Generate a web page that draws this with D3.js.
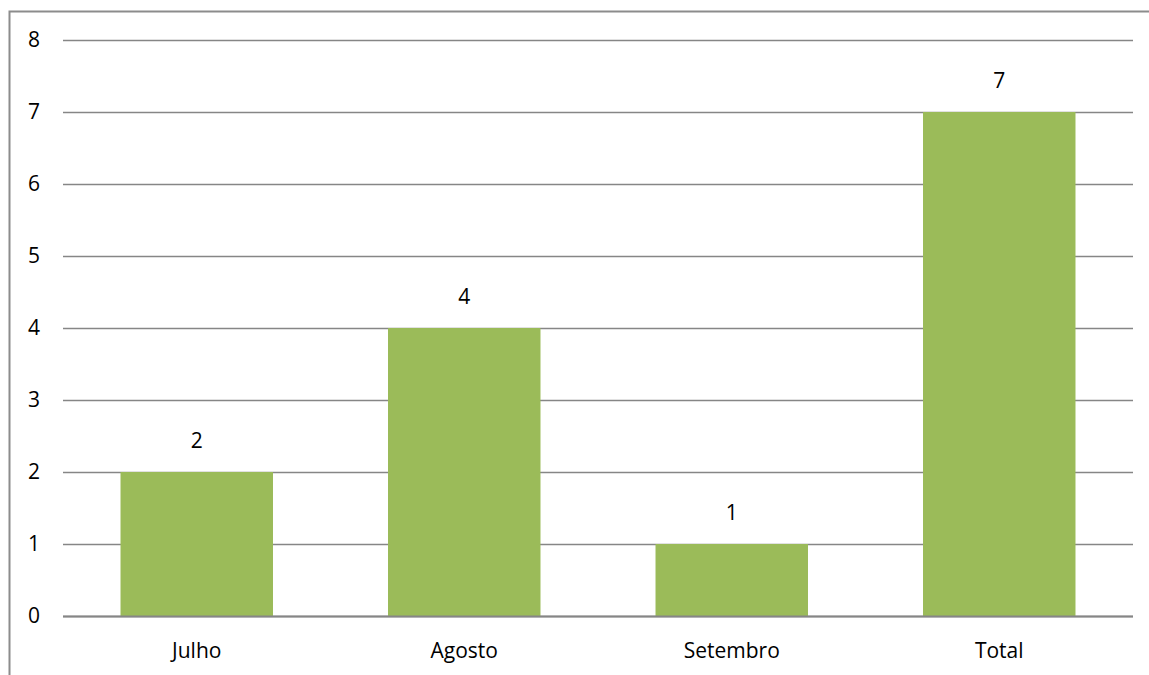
<!DOCTYPE html>
<html>
<head>
<meta charset="utf-8">
<script src="https://cdn.jsdelivr.net/npm/d3@7"></script>
<style>
  body { margin: 0; background: #fff; }
  text { font-family: "Open Sans", "Noto Sans", sans-serif; fill: #000; }
</style>
</head>
<body>
<script>
// Categories and values
var months = ["Julho", "Agosto", "Setembro", "Total"];
var counts = [2, 4, 1, 7];
var yTicks = [0, 1, 2, 3, 4, 5, 6, 7, 8];

var width = 1149, height = 675;
var plotLeft = 63, plotRight = 1133, plotTop = 40, plotBottom = 616;

var svg = d3.select("body").append("svg")
    .attr("width", width)
    .attr("height", height);

// Frame (only top and left visible in the picture)
svg.append("path")
   .attr("d", "M9.5," + height + "V11.5H" + width)
   .attr("fill", "none")
   .attr("stroke", "#8c8c8c")
   .attr("stroke-width", 2);

var x = d3.scaleBand()
    .domain(months)
    .range([plotLeft, plotRight])
    .paddingInner(0.43)
    .paddingOuter(0.215);

var y = d3.scaleLinear()
    .domain([0, 8])
    .range([plotBottom, plotTop]);

// Grid lines
svg.append("g").selectAll("line")
   .data(yTicks)
   .join("line")
   .attr("x1", plotLeft)
   .attr("x2", plotRight)
   .attr("y1", function(d){ return Math.round(y(d)) + 0.5; })
   .attr("y2", function(d){ return Math.round(y(d)) + 0.5; })
   .attr("stroke", "#868686")
   .attr("stroke-width", 1.5);

// Bars
svg.append("g").selectAll("rect")
   .data(counts)
   .join("rect")
   .attr("x", function(d, i){ return x(months[i]); })
   .attr("y", function(d){ return y(d); })
   .attr("width", x.bandwidth())
   .attr("height", function(d){ return y(0) - y(d); })
   .attr("fill", "#9bbb59");

// baseline over bars
svg.append("line")
   .attr("x1", plotLeft).attr("x2", plotRight)
   .attr("y1", y(0) + 0.5).attr("y2", y(0) + 0.5)
   .attr("stroke", "#868686").attr("stroke-width", 2);

// Y labels
svg.append("g").selectAll("text")
   .data(yTicks)
   .join("text")
   .attr("x", 40)
   .attr("y", function(d){ return y(d); })
   .attr("dy", "0.35em")
   .attr("text-anchor", "end")
   .attr("font-size", 21)
   .text(function(d){ return d; });

// Value labels
svg.append("g").selectAll("text")
   .data(counts)
   .join("text")
   .attr("x", function(d, i){ return x(months[i]) + x.bandwidth() / 2; })
   .attr("y", function(d){ return y(d) - 31; })
   .attr("dy", "0.35em")
   .attr("text-anchor", "middle")
   .attr("font-size", 21)
   .text(function(d){ return d; });

// Category labels
svg.append("g").selectAll("text")
   .data(months)
   .join("text")
   .attr("x", function(d){ return x(d) + x.bandwidth() / 2; })
   .attr("y", 651)
   .attr("dy", "0.35em")
   .attr("text-anchor", "middle")
   .attr("font-size", 21)
   .text(function(d){ return d; });
</script>
</body>
</html>
